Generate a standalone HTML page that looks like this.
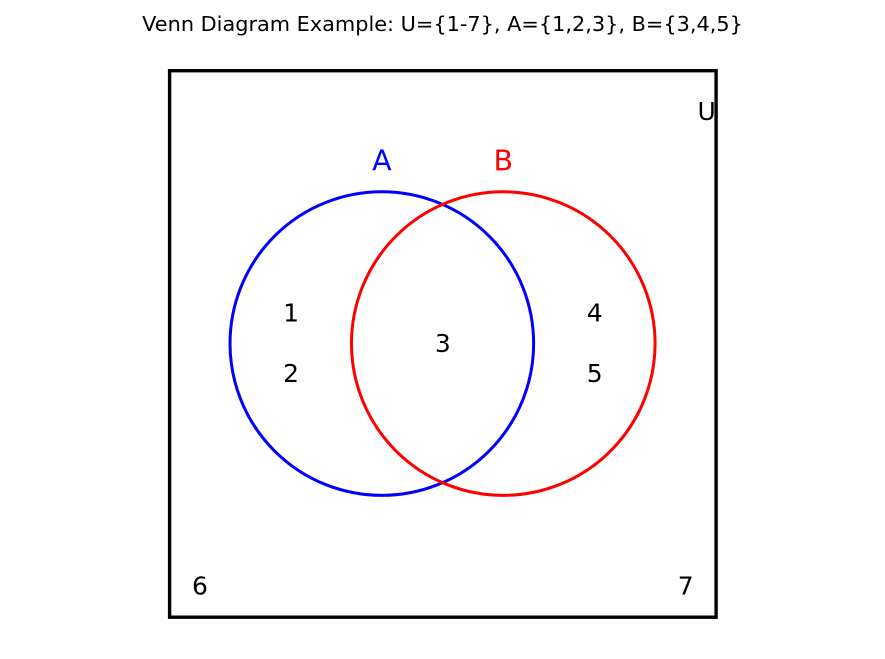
<!DOCTYPE html>
<html>
<head>
<meta charset="utf-8">
<title>Venn Diagram Example</title>
<style>
html,body{margin:0;padding:0;background:#fff;width:885px;height:659px;overflow:hidden}
svg{display:block;font-family:"DejaVu Sans","Liberation Sans",sans-serif}
</style>
</head>
<body>
<svg id="chart" xmlns="http://www.w3.org/2000/svg" width="885" height="659" viewBox="0 0 885 659">
  <rect width="885" height="659" fill="#fff"/>
  <text x="442.5" y="31" text-anchor="middle" font-size="20.83px" fill="#000">Venn Diagram Example: U={1-7}, A={1,2,3}, B={3,4,5}</text>
</svg>
<script>
// Data (in axis units: universe spans 0..9 on both axes)
var universeExtent = [0, 9];
var setNames = ['A', 'B'];
var setColors = ['blue', 'red'];
var setCenterX = [3.5, 5.5];
var setCenterY = [4.5, 4.5];
var setRadius = [2.5, 2.5];
var setLabelY = [7.5, 7.5];
var elementLabels = ['1', '2', '3', '4', '5', '6', '7'];
var elementX = [2, 2, 4.5, 7, 7, 0.5, 8.5];
var elementY = [5, 4, 4.5, 5, 4, 0.5, 0.5];
var universeLabel = ['U'];
var universeLabelX = [8.85];
var universeLabelY = [8.32];

var svg = document.getElementById('chart');
var NS = 'http://www.w3.org/2000/svg';
var plotLeft = 169.3, plotTop = 70.3, plotSize = 546.5;
function sx(v) { return plotLeft + (v - universeExtent[0]) / (universeExtent[1] - universeExtent[0]) * plotSize; }
function sy(v) { return plotTop + plotSize - (v - universeExtent[0]) / (universeExtent[1] - universeExtent[0]) * plotSize; }
function scaleLen(v) { return v / (universeExtent[1] - universeExtent[0]) * plotSize; }
function make(tag) { return document.createElementNS(NS, tag); }
function addText(str, x, y, size, color) {
  var t = make('text');
  t.setAttribute('x', x);
  t.setAttribute('y', y);
  t.setAttribute('text-anchor', 'middle');
  t.setAttribute('dominant-baseline', 'central');
  t.setAttribute('font-size', size + 'px');
  t.setAttribute('fill', color);
  t.textContent = str;
  svg.appendChild(t);
  return t;
}

var box = make('rect');
box.setAttribute('x', sx(universeExtent[0]) + 0.3);
box.setAttribute('y', sy(universeExtent[1]) + 0.4);
box.setAttribute('width', scaleLen(universeExtent[1] - universeExtent[0]));
box.setAttribute('height', scaleLen(universeExtent[1] - universeExtent[0]));
box.setAttribute('fill', 'none');
box.setAttribute('stroke', '#000');
box.setAttribute('stroke-width', '3.4');


svg.appendChild(box);

setNames.forEach(function (name, i) {
  var c = make('circle');
  c.setAttribute('cx', sx(setCenterX[i]));
  c.setAttribute('cy', sy(setCenterY[i]));
  c.setAttribute('r', scaleLen(setRadius[i]));
  c.setAttribute('fill', 'none');
  c.setAttribute('stroke', setColors[i]);
  c.setAttribute('stroke-width', '3');
  
  
  svg.appendChild(c);
  var t = addText(name, sx(setCenterX[i]), sy(setLabelY[i]) - 0.2, 28.5, setColors[i]);
  
  
});

elementLabels.forEach(function (label, i) {
  var t = addText(label, sx(elementX[i]) + 0.3, sy(elementY[i]) - 0.2, 25, '#000');
  
  
});

universeLabel.forEach(function (label, i) {
  var t = addText(label, sx(universeLabelX[i]), sy(universeLabelY[i]), 25, '#000');
  
  
});
</script>
</body>
</html>
